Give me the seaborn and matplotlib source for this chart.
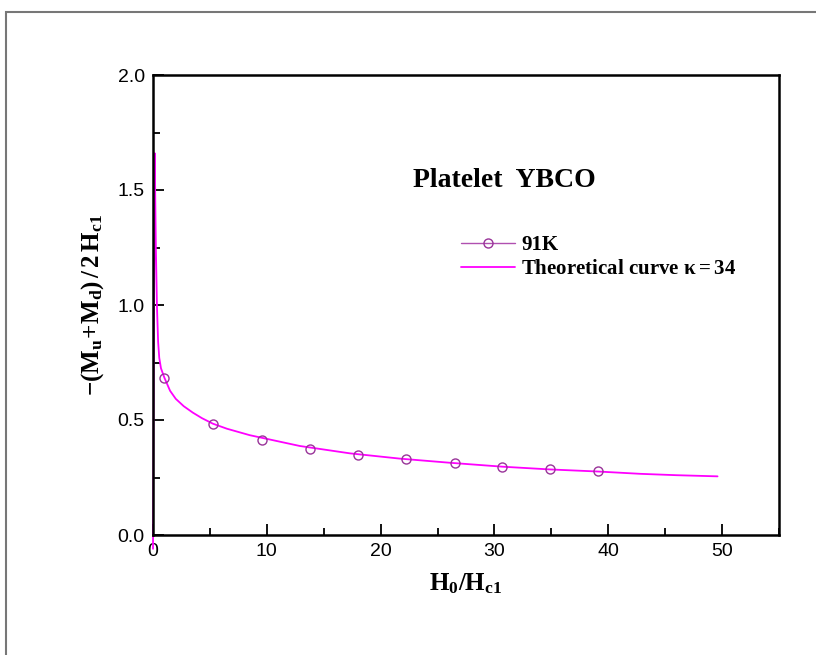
import matplotlib
matplotlib.use("Agg")
import matplotlib.pyplot as plt
from matplotlib.patches import Rectangle
from matplotlib.ticker import MultipleLocator
import pandas as pd
import seaborn as sns

# measured points, 91K
h_data = [0.99, 5.26, 9.59, 13.8, 18.0, 22.2, 26.5, 30.7, 34.9, 39.1]
m_data = [0.684, 0.484, 0.414, 0.373, 0.347, 0.329, 0.312, 0.297, 0.286, 0.277]

# theoretical curve (kappa = 34)
h_theory = [0.0, 0.15, 0.25, 0.35, 0.45, 0.55, 0.7, 1.0, 1.5, 2.0, 2.7, 3.5, 4.3,
            5.26, 6.5, 8.5, 12.9, 17.3, 21.7, 26.1, 30.7, 34.9, 39.1, 42.8, 46.0, 49.6]
m_theory = [-0.06, 1.66, 1.25, 0.99, 0.84, 0.77, 0.725, 0.684, 0.627, 0.592, 0.56, 0.532, 0.508,
            0.484, 0.462, 0.434, 0.387, 0.355, 0.332, 0.314, 0.297, 0.285, 0.276, 0.266, 0.260, 0.255]

data_df = pd.DataFrame({"h": h_data, "m": m_data})
theory_df = pd.DataFrame({"h": h_theory, "m": m_theory})

sns.set_style("ticks")
plt.rcParams["font.family"] = ["Liberation Sans", "DejaVu Sans"]
plt.rcParams["mathtext.fontset"] = "custom"
plt.rcParams["mathtext.rm"] = "Liberation Serif:bold"
plt.rcParams["mathtext.it"] = "Liberation Serif:bold"
plt.rcParams["mathtext.bf"] = "Liberation Serif:bold"
plt.rcParams["mathtext.default"] = "rm"
for key in ["text.color", "axes.labelcolor", "xtick.color", "ytick.color", "axes.edgecolor"]:
    plt.rcParams[key] = "black"

fig = plt.figure(figsize=(8.16, 6.55), dpi=100)
ax = fig.add_axes([153 / 816, 1 - 535 / 655, 626 / 816, 460 / 655])

# outer frame
fig.patches.append(Rectangle((6 / 816, -0.1), 1.2, 1 - 12 / 655 + 0.1,
                             transform=fig.transFigure, fill=False,
                             edgecolor="#777777", linewidth=1.5))

sns.lineplot(data=data_df, x="h", y="m", ax=ax, color="#b050b0", linewidth=1,
             linestyle="", marker="o", markersize=6.5, markerfacecolor="none",
             markeredgecolor="#993399", markeredgewidth=1, label="91K",
             estimator=None, zorder=3)
sns.lineplot(data=theory_df, x="h", y="m", ax=ax, color="#ff00ff", linewidth=1.3,
             label=r"Theoretical curve $\kappa = 34$", estimator=None,
             sort=False, zorder=2)
ax.lines[-1].set_clip_on(False)

ax.set_xlim(0, 55)
ax.set_ylim(0, 2.0)
ax.xaxis.set_major_locator(MultipleLocator(10))
ax.xaxis.set_minor_locator(MultipleLocator(5))
ax.yaxis.set_major_locator(MultipleLocator(0.5))
ax.yaxis.set_minor_locator(MultipleLocator(0.25))
ax.tick_params(which="both", direction="in", width=1.3, labelsize=14,
               top=False, right=False)
ax.tick_params(which="major", length=8)
ax.tick_params(which="minor", length=5)
ax.tick_params(axis="x", pad=6)
ax.tick_params(axis="y", pad=6)
for s in ax.spines.values():
    s.set_linewidth(1.8)
    s.set_visible(True)

ax.set_xlabel(r"$H_0/H_{c1}$", fontsize=18, labelpad=8)
ax.set_ylabel(r"$-(M_u\!+\!M_d)\,/\,2\,H_{c1}$", fontsize=18, labelpad=8)

ax.text(0.415, 0.757, "Platelet  YBCO", transform=ax.transAxes,
        fontsize=20, fontweight="bold", family="Liberation Serif", va="baseline")

leg = ax.legend(loc="upper left", bbox_to_anchor=(0.475, 0.675), frameon=False,
                handlelength=2.6, handletextpad=0.3, borderpad=0, labelspacing=0.2,
                prop={"family": "Liberation Serif", "weight": "bold", "size": 15})
# the 91K entry keeps its connecting line in the key only
leg.get_lines()[0].set_linestyle("-")

fig.savefig("out.png", dpi=100)
